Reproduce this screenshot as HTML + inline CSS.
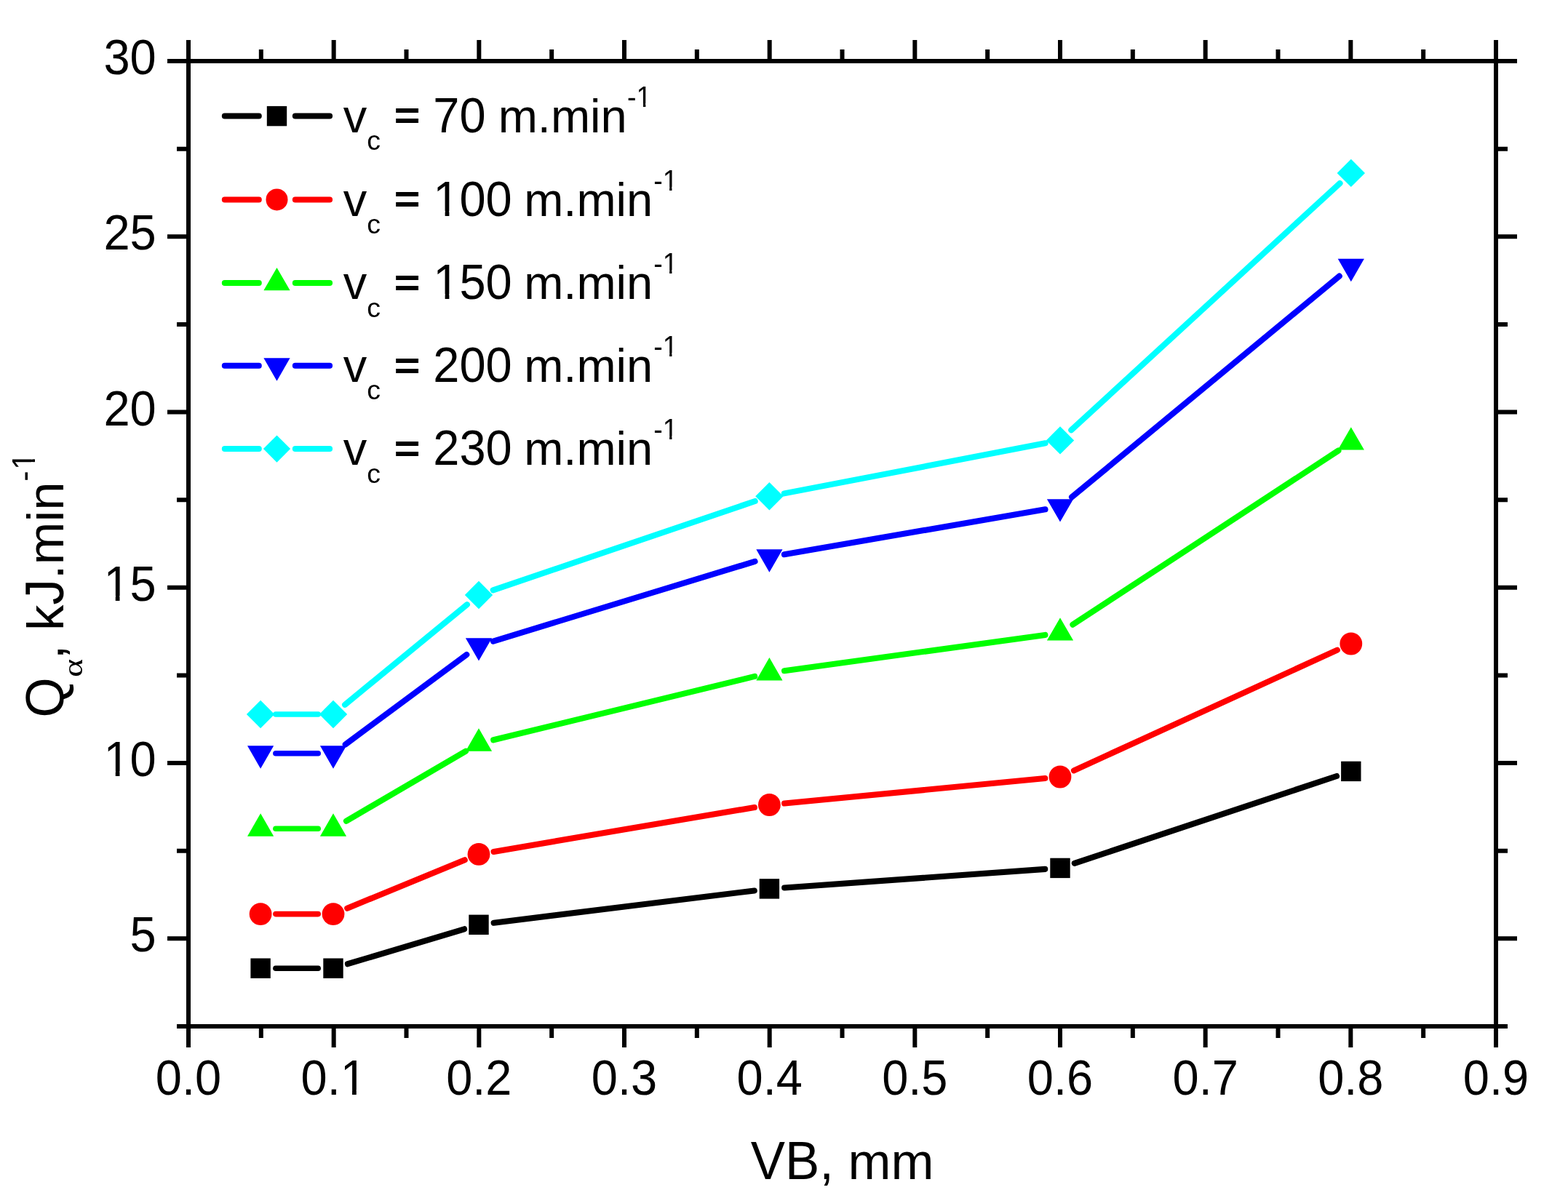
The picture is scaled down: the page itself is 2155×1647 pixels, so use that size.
<!DOCTYPE html>
<html><head><meta charset="utf-8"><title>Q vs VB</title>
<style>html,body{margin:0;padding:0;background:#fff;overflow:hidden;width:2155px;height:1647px;}svg{display:block;}text{font-family:"Liberation Sans",Arial,sans-serif;fill:#000;}.al{font-family:"Liberation Serif","DejaVu Serif",serif;}.eq{stroke:#000;stroke-width:2.17px;}</style></head><body>
<svg width="2155" height="1647" viewBox="0 0 2155 1647">
<rect width="2155" height="1647" fill="#fff"/>
<path d="M378.90 1331.20L437.20 1331.20" stroke="#000000" stroke-width="7.6" stroke-linecap="round" fill="none"/>
<path d="M477.93 1325.23L638.07 1277.27" stroke="#000000" stroke-width="8.1" stroke-linecap="round" fill="none"/>
<path d="M678.64 1268.75L1036.76 1224.45" stroke="#000000" stroke-width="8.1" stroke-linecap="round" fill="none"/>
<path d="M1078.15 1220.42L1436.25 1194.88" stroke="#000000" stroke-width="8.1" stroke-linecap="round" fill="none"/>
<path d="M1476.74 1186.83L1837.06 1066.97" stroke="#000000" stroke-width="8.1" stroke-linecap="round" fill="none"/>
<path d="M378.90 1256.60L437.20 1256.60" stroke="#FF0000" stroke-width="7.6" stroke-linecap="round" fill="none"/>
<path d="M477.24 1248.69L638.76 1182.31" stroke="#FF0000" stroke-width="8.1" stroke-linecap="round" fill="none"/>
<path d="M678.51 1170.91L1036.89 1109.99" stroke="#FF0000" stroke-width="8.1" stroke-linecap="round" fill="none"/>
<path d="M1078.10 1104.51L1436.30 1069.99" stroke="#FF0000" stroke-width="8.1" stroke-linecap="round" fill="none"/>
<path d="M1475.91 1059.34L1837.89 893.66" stroke="#FF0000" stroke-width="8.1" stroke-linecap="round" fill="none"/>
<path d="M378.90 1139.20L437.20 1139.20" stroke="#00FF00" stroke-width="7.6" stroke-linecap="round" fill="none"/>
<path d="M475.95 1128.70L640.05 1032.70" stroke="#00FF00" stroke-width="8.1" stroke-linecap="round" fill="none"/>
<path d="M678.21 1017.28L1037.19 929.92" stroke="#00FF00" stroke-width="8.1" stroke-linecap="round" fill="none"/>
<path d="M1078.01 922.17L1436.39 872.93" stroke="#00FF00" stroke-width="8.1" stroke-linecap="round" fill="none"/>
<path d="M1474.40 858.70L1839.40 619.50" stroke="#00FF00" stroke-width="8.1" stroke-linecap="round" fill="none"/>
<path d="M378.90 1035.80L437.20 1035.80" stroke="#0000FF" stroke-width="7.6" stroke-linecap="round" fill="none"/>
<path d="M474.71 1023.42L641.29 899.98" stroke="#0000FF" stroke-width="8.1" stroke-linecap="round" fill="none"/>
<path d="M677.90 881.53L1037.50 771.87" stroke="#0000FF" stroke-width="8.1" stroke-linecap="round" fill="none"/>
<path d="M1077.90 762.26L1436.50 700.24" stroke="#0000FF" stroke-width="8.1" stroke-linecap="round" fill="none"/>
<path d="M1473.03 683.45L1840.77 379.55" stroke="#0000FF" stroke-width="8.1" stroke-linecap="round" fill="none"/>
<path d="M378.90 982.00L437.20 982.00" stroke="#00FFFF" stroke-width="7.6" stroke-linecap="round" fill="none"/>
<path d="M474.08 968.81L641.92 831.19" stroke="#00FFFF" stroke-width="8.1" stroke-linecap="round" fill="none"/>
<path d="M677.69 811.31L1037.71 688.99" stroke="#00FFFF" stroke-width="8.1" stroke-linecap="round" fill="none"/>
<path d="M1077.83 678.37L1436.57 609.33" stroke="#00FFFF" stroke-width="8.1" stroke-linecap="round" fill="none"/>
<path d="M1472.31 591.32L1841.49 251.98" stroke="#00FFFF" stroke-width="8.1" stroke-linecap="round" fill="none"/>
<rect x="344.40" y="1317.50" width="27.4" height="27.4" fill="#000000"/>
<rect x="444.30" y="1317.50" width="27.4" height="27.4" fill="#000000"/>
<rect x="644.30" y="1257.60" width="27.4" height="27.4" fill="#000000"/>
<rect x="1043.70" y="1208.20" width="27.4" height="27.4" fill="#000000"/>
<rect x="1443.30" y="1179.70" width="27.4" height="27.4" fill="#000000"/>
<rect x="1843.10" y="1046.70" width="27.4" height="27.4" fill="#000000"/>
<circle cx="358.10" cy="1256.60" r="15.4" fill="#FF0000"/>
<circle cx="458.00" cy="1256.60" r="15.4" fill="#FF0000"/>
<circle cx="658.00" cy="1174.40" r="15.4" fill="#FF0000"/>
<circle cx="1057.40" cy="1106.50" r="15.4" fill="#FF0000"/>
<circle cx="1457.00" cy="1068.00" r="15.4" fill="#FF0000"/>
<circle cx="1856.80" cy="885.00" r="15.4" fill="#FF0000"/>
<polygon points="358.10,1118.30 376.20,1149.65 340.00,1149.65" fill="#00FF00"/>
<polygon points="458.00,1118.30 476.10,1149.65 439.90,1149.65" fill="#00FF00"/>
<polygon points="658.00,1001.30 676.10,1032.65 639.90,1032.65" fill="#00FF00"/>
<polygon points="1057.40,904.10 1075.50,935.45 1039.30,935.45" fill="#00FF00"/>
<polygon points="1457.00,849.20 1475.10,880.55 1438.90,880.55" fill="#00FF00"/>
<polygon points="1856.80,587.20 1874.90,618.55 1838.70,618.55" fill="#00FF00"/>
<polygon points="340.00,1025.35 376.20,1025.35 358.10,1056.70" fill="#0000FF"/>
<polygon points="439.90,1025.35 476.10,1025.35 458.00,1056.70" fill="#0000FF"/>
<polygon points="639.90,877.15 676.10,877.15 658.00,908.50" fill="#0000FF"/>
<polygon points="1039.30,755.35 1075.50,755.35 1057.40,786.70" fill="#0000FF"/>
<polygon points="1438.90,686.25 1475.10,686.25 1457.00,717.60" fill="#0000FF"/>
<polygon points="1838.70,355.85 1874.90,355.85 1856.80,387.20" fill="#0000FF"/>
<polygon points="358.10,962.80 377.30,982.00 358.10,1001.20 338.90,982.00" fill="#00FFFF"/>
<polygon points="458.00,962.80 477.20,982.00 458.00,1001.20 438.80,982.00" fill="#00FFFF"/>
<polygon points="658.00,798.80 677.20,818.00 658.00,837.20 638.80,818.00" fill="#00FFFF"/>
<polygon points="1057.40,663.10 1076.60,682.30 1057.40,701.50 1038.20,682.30" fill="#00FFFF"/>
<polygon points="1457.00,586.20 1476.20,605.40 1457.00,624.60 1437.80,605.40" fill="#00FFFF"/>
<polygon points="1856.80,218.70 1876.00,237.90 1856.80,257.10 1837.60,237.90" fill="#00FFFF"/>
<g stroke="#000" stroke-width="6" fill="none" stroke-linecap="butt">
<rect x="259.0" y="84.0" width="1797.0" height="1327.0"/>
<path d="M259.00 1411.0v29M259.00 84.0v-29M458.67 1411.0v29M458.67 84.0v-29M658.33 1411.0v29M658.33 84.0v-29M858.00 1411.0v29M858.00 84.0v-29M1057.67 1411.0v29M1057.67 84.0v-29M1257.33 1411.0v29M1257.33 84.0v-29M1457.00 1411.0v29M1457.00 84.0v-29M1656.67 1411.0v29M1656.67 84.0v-29M1856.33 1411.0v29M1856.33 84.0v-29M2056.00 1411.0v29M2056.00 84.0v-29M358.83 1411.0v16M358.83 84.0v-16M558.50 1411.0v16M558.50 84.0v-16M758.17 1411.0v16M758.17 84.0v-16M957.83 1411.0v16M957.83 84.0v-16M1157.50 1411.0v16M1157.50 84.0v-16M1357.17 1411.0v16M1357.17 84.0v-16M1556.83 1411.0v16M1556.83 84.0v-16M1756.50 1411.0v16M1756.50 84.0v-16M1956.17 1411.0v16M1956.17 84.0v-16M259.0 1290.36h-29M2056.0 1290.36h29M259.0 1049.09h-29M2056.0 1049.09h29M259.0 807.82h-29M2056.0 807.82h29M259.0 566.55h-29M2056.0 566.55h29M259.0 325.27h-29M2056.0 325.27h29M259.0 84.00h-29M2056.0 84.00h29M259.0 1411.00h-16M2056.0 1411.00h16M259.0 1169.73h-16M2056.0 1169.73h16M259.0 928.45h-16M2056.0 928.45h16M259.0 687.18h-16M2056.0 687.18h16M259.0 445.91h-16M2056.0 445.91h16M259.0 204.64h-16M2056.0 204.64h16"/>
</g>
<text transform="translate(259.00,1505.20) scale(1.0,1.065)" font-size="65" text-anchor="middle">0.0</text>
<text transform="translate(458.67,1505.20) scale(1.0,1.065)" font-size="65" text-anchor="middle">0.1</text><g transform="translate(458.67,1505.20) scale(1.0,1.065)" fill="#fff"><rect x="12.78" y="-6.46" width="12.59" height="7.46"/><rect x="31.12" y="-6.46" width="12.09" height="7.46"/></g>
<text transform="translate(658.33,1505.20) scale(1.0,1.065)" font-size="65" text-anchor="middle">0.2</text>
<text transform="translate(858.00,1505.20) scale(1.0,1.065)" font-size="65" text-anchor="middle">0.3</text>
<text transform="translate(1057.67,1505.20) scale(1.0,1.065)" font-size="65" text-anchor="middle">0.4</text>
<text transform="translate(1257.33,1505.20) scale(1.0,1.065)" font-size="65" text-anchor="middle">0.5</text>
<text transform="translate(1457.00,1505.20) scale(1.0,1.065)" font-size="65" text-anchor="middle">0.6</text>
<text transform="translate(1656.67,1505.20) scale(1.0,1.065)" font-size="65" text-anchor="middle">0.7</text>
<text transform="translate(1856.33,1505.20) scale(1.0,1.065)" font-size="65" text-anchor="middle">0.8</text>
<text transform="translate(2056.00,1505.20) scale(1.0,1.065)" font-size="65" text-anchor="middle">0.9</text>
<text transform="translate(214.70,1308.36) scale(1.0,1.065)" font-size="65" text-anchor="end">5</text>
<text transform="translate(214.70,1067.09) scale(1.0,1.065)" font-size="65" text-anchor="end">10</text><g transform="translate(214.70,1067.09) scale(1.0,1.065)" fill="#fff"><rect x="-68.55" y="-6.46" width="12.59" height="7.46"/><rect x="-50.21" y="-6.46" width="12.09" height="7.46"/></g>
<text transform="translate(214.70,825.82) scale(1.0,1.065)" font-size="65" text-anchor="end">15</text><g transform="translate(214.70,825.82) scale(1.0,1.065)" fill="#fff"><rect x="-68.55" y="-6.46" width="12.59" height="7.46"/><rect x="-50.21" y="-6.46" width="12.09" height="7.46"/></g>
<text transform="translate(214.70,584.55) scale(1.0,1.065)" font-size="65" text-anchor="end">20</text>
<text transform="translate(214.70,343.27) scale(1.0,1.065)" font-size="65" text-anchor="end">25</text>
<text transform="translate(214.70,102.00) scale(1.0,1.065)" font-size="65" text-anchor="end">30</text>
<text transform="translate(1031.70,1621.00) scale(1.0,1.04)" font-size="70.8">VB</text>
<text x="1126.15" y="1621.00" font-size="70.8">, mm</text>
<g transform="translate(87.2,986.4) rotate(-90)"><text transform="translate(0.00,0.00) scale(1.0,1.05)" font-size="70.8">Q</text><text x="80.10" y="0.00" font-size="70.8">, k</text><text transform="translate(154.84,0.00) scale(1.0,1.04)" font-size="70.8">J</text><text x="190.24" y="0.00" font-size="70.8">.min</text><text transform="translate(324.60,-39.20) scale(1.0,1.03)" font-size="43">-</text><text transform="translate(340.42,-39.20) scale(1.0,1.03)" font-size="43">1</text><g transform="translate(340.42,-39.20) scale(1.0,1.03)" fill="#fff"><rect x="2.08" y="-4.81" width="8.74" height="5.81"/><rect x="14.61" y="-4.81" width="8.40" height="5.81"/></g><text transform="translate(55.40,26.20) scale(1.3,1.0)" font-size="37" class="al">&#945;</text></g>
<path d="M308.8 159.6H355.8M405.8 159.6H453.1" stroke="#000000" stroke-width="8" stroke-linecap="round"/>
<rect x="366.80" y="145.90" width="27.4" height="27.4" fill="#000000"/>
<text x="471.80" y="181.90" font-size="65">v</text>
<text x="504.30" y="206.20" font-size="37.5">c</text>
<text transform="translate(542.20,177.30) scale(0.9156,0.859)" font-size="65" class="eq">=</text>
<text transform="translate(595.30,181.90) scale(1.0,1.065)" font-size="65">70</text>
<text x="684.70" y="181.90" font-size="65">m.min</text>
<text transform="translate(862.10,146.70) scale(1.0,1.065)" font-size="37.5">-1</text><g transform="translate(862.10,146.70) scale(1.0,1.065)" fill="#fff"><rect x="14.14" y="-4.40" width="7.77" height="5.40"/><rect x="25.23" y="-4.40" width="7.48" height="5.40"/></g>
<path d="M308.8 274.4H355.8M405.8 274.4H453.1" stroke="#FF0000" stroke-width="8" stroke-linecap="round"/>
<circle cx="380.50" cy="274.40" r="15.0" fill="#FF0000"/>
<text x="471.80" y="296.70" font-size="65">v</text>
<text x="504.30" y="321.00" font-size="37.5">c</text>
<text transform="translate(542.20,292.10) scale(0.9156,0.859)" font-size="65" class="eq">=</text>
<text transform="translate(595.30,296.70) scale(1.0,1.065)" font-size="65">100</text><g transform="translate(595.30,296.70) scale(1.0,1.065)" fill="#fff"><rect x="3.75" y="-6.46" width="12.59" height="7.46"/><rect x="22.09" y="-6.46" width="12.09" height="7.46"/></g>
<text x="720.20" y="296.70" font-size="65">m.min</text>
<text transform="translate(898.20,261.50) scale(1.0,1.065)" font-size="37.5">-1</text><g transform="translate(898.20,261.50) scale(1.0,1.065)" fill="#fff"><rect x="14.14" y="-4.40" width="7.77" height="5.40"/><rect x="25.23" y="-4.40" width="7.48" height="5.40"/></g>
<path d="M308.8 388.9H355.8M405.8 388.9H453.1" stroke="#00FF00" stroke-width="8" stroke-linecap="round"/>
<polygon points="380.50,368.00 398.60,399.35 362.40,399.35" fill="#00FF00"/>
<text x="471.80" y="411.20" font-size="65">v</text>
<text x="504.30" y="435.50" font-size="37.5">c</text>
<text transform="translate(542.20,406.60) scale(0.9156,0.859)" font-size="65" class="eq">=</text>
<text transform="translate(595.30,411.20) scale(1.0,1.065)" font-size="65">150</text><g transform="translate(595.30,411.20) scale(1.0,1.065)" fill="#fff"><rect x="3.75" y="-6.46" width="12.59" height="7.46"/><rect x="22.09" y="-6.46" width="12.09" height="7.46"/></g>
<text x="720.20" y="411.20" font-size="65">m.min</text>
<text transform="translate(898.20,376.00) scale(1.0,1.065)" font-size="37.5">-1</text><g transform="translate(898.20,376.00) scale(1.0,1.065)" fill="#fff"><rect x="14.14" y="-4.40" width="7.77" height="5.40"/><rect x="25.23" y="-4.40" width="7.48" height="5.40"/></g>
<path d="M308.8 502.8H355.8M405.8 502.8H453.1" stroke="#0000FF" stroke-width="8" stroke-linecap="round"/>
<polygon points="362.40,492.35 398.60,492.35 380.50,523.70" fill="#0000FF"/>
<text x="471.80" y="525.10" font-size="65">v</text>
<text x="504.30" y="549.40" font-size="37.5">c</text>
<text transform="translate(542.20,520.50) scale(0.9156,0.859)" font-size="65" class="eq">=</text>
<text transform="translate(595.30,525.10) scale(1.0,1.065)" font-size="65">200</text>
<text x="720.20" y="525.10" font-size="65">m.min</text>
<text transform="translate(898.20,489.90) scale(1.0,1.065)" font-size="37.5">-1</text><g transform="translate(898.20,489.90) scale(1.0,1.065)" fill="#fff"><rect x="14.14" y="-4.40" width="7.77" height="5.40"/><rect x="25.23" y="-4.40" width="7.48" height="5.40"/></g>
<path d="M308.8 617.1H355.8M405.8 617.1H453.1" stroke="#00FFFF" stroke-width="8" stroke-linecap="round"/>
<polygon points="380.50,598.50 399.10,617.10 380.50,635.70 361.90,617.10" fill="#00FFFF"/>
<text x="471.80" y="639.40" font-size="65">v</text>
<text x="504.30" y="663.70" font-size="37.5">c</text>
<text transform="translate(542.20,634.80) scale(0.9156,0.859)" font-size="65" class="eq">=</text>
<text transform="translate(595.30,639.40) scale(1.0,1.065)" font-size="65">230</text>
<text x="720.20" y="639.40" font-size="65">m.min</text>
<text transform="translate(898.20,604.20) scale(1.0,1.065)" font-size="37.5">-1</text><g transform="translate(898.20,604.20) scale(1.0,1.065)" fill="#fff"><rect x="14.14" y="-4.40" width="7.77" height="5.40"/><rect x="25.23" y="-4.40" width="7.48" height="5.40"/></g>
</svg></body></html>
